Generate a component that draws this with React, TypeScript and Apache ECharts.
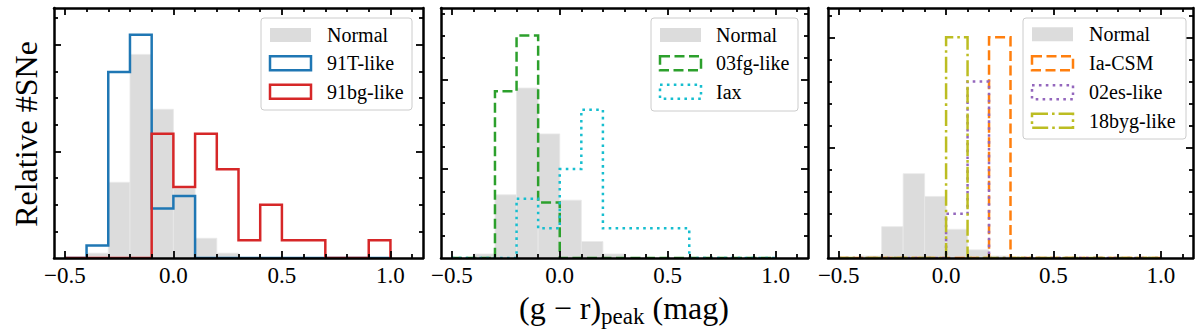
import React, { useEffect, useRef } from "react";
import * as echarts from "echarts";

// Bin edges shared by all histograms (width 0.1 mag)
const BIN_EDGES = [-0.5, -0.4, -0.3, -0.2, -0.1, 0.0, 0.1, 0.2, 0.3, 0.4, 0.5, 0.6, 0.7, 0.8, 0.9, 1.0];

// Densities per bin (15 bins)
const NORMAL = [0, 0.09, 1.42, 3.82, 2.79, 1.3, 0.37, 0.09, 0, 0, 0, 0, 0, 0, 0];
const T91 = [0, 0.233, 3.488, 4.186, 0.93, 1.163, 0, 0, 0, 0, 0, 0, 0, 0, 0];
const BG91 = [0, 0, 0, 0, 2.333, 1.333, 2.333, 1.667, 0.333, 1.0, 0.333, 0.333, 0, 0, 0.333];
const FG03 = [0, 0, 3.75, 5.0, 1.25, 0, 0, 0, 0, 0, 0, 0, 0, 0, 0];
const IAX = [0, 0, 0, 1.333, 0.667, 2.0, 3.333, 0.667, 0.667, 0.667, 0.667, 0, 0, 0, 0];
const CSM = [0, 0, 0, 0, 0, 0, 0, 10, 0, 0, 0, 0, 0, 0, 0];
const ES02 = [0, 0, 0, 0, 0, 2, 8, 0, 0, 0, 0, 0, 0, 0, 0];
const BYG18 = [0, 0, 0, 0, 0, 10, 0, 0, 0, 0, 0, 0, 0, 0, 0];

// Axis ticks
const X_MAJOR = [-0.5, 0.0, 0.5, 1.0];
const X_MINOR = [-0.4, -0.3, -0.2, -0.1, 0.1, 0.2, 0.3, 0.4, 0.6, 0.7, 0.8, 0.9, 1.1];
const Y_MAJOR = [[2, 4], [2, 4], [5, 10]];
const Y_MINOR = [
  [0.5, 1, 1.5, 2.5, 3, 3.5, 4.5],
  [0.5, 1, 1.5, 2.5, 3, 3.5, 4.5, 5, 5.5],
  [1, 2, 3, 4, 6, 7, 8, 9, 11],
];
const Y_MAX = [4.69, 5.62, 11.33];
const X_MIN = -0.55;
const X_MAX = 1.15;

const FONT = "'Liberation Serif', serif";

type Step = { name: string; data: number[]; color: string; dash: any };

const PANELS: { steps: Step[] }[] = [
  {
    steps: [
      { name: "91T-like", data: T91, color: "#1f77b4", dash: "solid" },
      { name: "91bg-like", data: BG91, color: "#d62728", dash: "solid" },
    ],
  },
  {
    steps: [
      { name: "03fg-like", data: FG03, color: "#2ca02c", dash: [10, 4.5] },
      { name: "Iax", data: IAX, color: "#17becf", dash: [2.6, 4.3] },
    ],
  },
  {
    steps: [
      { name: "Ia-CSM", data: CSM, color: "#ff7f0e", dash: [10, 4.5] },
      { name: "02es-like", data: ES02, color: "#9467bd", dash: [2.6, 4.3] },
      { name: "18byg-like", data: BYG18, color: "#bcbd22", dash: [16, 4, 2.6, 4] },
    ],
  },
];

const GRIDS = [
  { left: 54, top: 8, width: 369, height: 250 },
  { left: 441, top: 8, width: 367, height: 250 },
  { left: 828, top: 8, width: 365, height: 250 },
];

const LEGENDS = [
  { x: 261, y: 18, w: 151, h: 92, hx: 270, tx: 327, rows: [35, 63.3, 91.7] },
  { x: 651, y: 18, w: 147, h: 93, hx: 660, tx: 716, rows: [35, 63.3, 91.7] },
  { x: 1023, y: 18, w: 163, h: 121, hx: 1032, tx: 1089, rows: [34.3, 63.3, 92.2, 120.7] },
];

function stepPoints(vals: number[]) {
  const pts: number[][] = [[BIN_EDGES[0], 0]];
  vals.forEach((v, i) => pts.push([BIN_EDGES[i], v]));
  pts.push([BIN_EDGES[BIN_EDGES.length - 1], 0]);
  return pts;
}

function fmt(v: number) {
  const s = Math.abs(v).toFixed(1);
  return v < 0 ? "\u2212" + s : s;
}

function buildOption() {
  const xAxis: any[] = [];
  const yAxis: any[] = [];
  const series: any[] = [];
  const graphic: any[] = [];

  GRIDS.forEach((_, g) => {
    const mk = (pos: string, minor: boolean, labels: boolean) => ({
      type: "value",
      gridIndex: g,
      position: pos,
      min: X_MIN,
      max: X_MAX,
      z: 10,
      axisLine: { show: !minor, onZero: false, lineStyle: { color: "#000", width: 2.5 } },
      axisTick: {
        show: true,
        inside: true,
        length: minor ? 4 : 7,
        lineStyle: { color: "#000", width: 1.8 },
        customValues: minor ? X_MINOR : X_MAJOR,
      },
      axisLabel: {
        show: labels,
        customValues: X_MAJOR,
        formatter: (v: number) => fmt(v),
        color: "#000",
        fontFamily: "Liberation Serif",
        fontSize: 23,
        margin: 6,
      },
      splitLine: { show: false },
    });
    xAxis.push(mk("bottom", false, true), mk("top", false, false), mk("bottom", true, false), mk("top", true, false));

    const mky = (pos: string, minor: boolean) => ({
      type: "value",
      gridIndex: g,
      position: pos,
      min: 0,
      max: Y_MAX[g],
      z: 10,
      axisLine: { show: !minor, onZero: false, lineStyle: { color: "#000", width: 2.5 } },
      axisTick: {
        show: true,
        inside: true,
        length: minor ? 4 : 7,
        lineStyle: { color: "#000", width: 1.8 },
        customValues: minor ? Y_MINOR[g] : Y_MAJOR[g],
      },
      axisLabel: { show: false },
      splitLine: { show: false },
    });
    yAxis.push(mky("left", false), mky("right", false), mky("left", true), mky("right", true));

    series.push({
      type: "custom",
      name: "Normal",
      xAxisIndex: 4 * g,
      yAxisIndex: 4 * g,
      clip: true,
      z: 1,
      data: NORMAL.map((v, i) => [BIN_EDGES[i], BIN_EDGES[i + 1], v]),
      encode: { x: [0, 1], y: 2 },
      renderItem: (params: any, api: any) => {
        const v = api.value(2);
        if (!v) return null;
        const p0 = api.coord([api.value(0), v]);
        const p1 = api.coord([api.value(1), 0]);
        return {
          type: "rect",
          shape: { x: p0[0], y: p0[1], width: p1[0] - p0[0], height: p1[1] - p0[1] },
          style: { fill: "#dcdcdc", stroke: "#e9e9e9", lineWidth: 0.8 },
        };
      },
    });

    PANELS[g].steps.forEach((s, k) => {
      series.push({
        type: "line",
        name: s.name,
        xAxisIndex: 4 * g,
        yAxisIndex: 4 * g,
        step: "end",
        symbol: "none",
        z: 3 + k,
        data: stepPoints(s.data),
        lineStyle: { color: s.color, width: 2.5, type: s.dash, cap: "butt", join: "miter" },
      });
    });

    // legend
    const L = LEGENDS[g];
    graphic.push({
      type: "rect",
      z: 50,
      shape: { x: L.x, y: L.y, width: L.w, height: L.h, r: 3 },
      style: { fill: "rgba(255,255,255,0.8)", stroke: "#cccccc", lineWidth: 1 },
    });
    const items = [{ name: "Normal", color: "#dcdcdc", dash: null as any, fill: true }].concat(
      PANELS[g].steps.map((s) => ({ name: s.name, color: s.color, dash: s.dash, fill: false }))
    );
    items.forEach((it, r) => {
      const cy = L.rows[r];
      graphic.push({
        type: "rect",
        z: 51,
        shape: { x: L.hx, y: cy - 7, width: 41, height: 14 },
        style: it.fill
          ? { fill: it.color }
          : {
              fill: "none",
              stroke: it.color,
              lineWidth: 2.5,
              lineDash: it.dash === "solid" ? null : it.dash,
              lineJoin: "miter",
            },
      });
      graphic.push({
        type: "text",
        z: 51,
        x: L.tx,
        y: cy,
        style: {
          text: it.name,
          fill: "#000",
          font: `20px ${FONT}`,
          align: "left",
          verticalAlign: "middle",
        },
      });
    });
  });

  graphic.push({
    type: "text",
    x: 26,
    y: 134,
    rotation: Math.PI / 2,
    style: {
      text: "Relative #SNe",
      fill: "#000",
      font: `32px ${FONT}`,
      align: "center",
      verticalAlign: "middle",
    },
  });
  graphic.push({
    type: "text",
    x: 624,
    y: 308,
    style: {
      text: "{a|(g \u2212 r)}{b|peak}{a| (mag)}",
      fill: "#000",
      align: "center",
      verticalAlign: "middle",
      rich: {
        a: { fontSize: 32, fontFamily: "Liberation Serif", lineHeight: 40, verticalAlign: "middle" },
        b: { fontSize: 23, fontFamily: "Liberation Serif", lineHeight: 16, verticalAlign: "bottom" },
      },
    },
  });

  return {
    animation: false,
    backgroundColor: "#fff",
    textStyle: { fontFamily: "Liberation Serif" },
    grid: GRIDS.map((g) => ({ ...g, containLabel: false })),
    xAxis,
    yAxis,
    series,
    graphic,
  };
}

export default function App() {
  const ref = useRef<HTMLDivElement>(null);
  useEffect(() => {
    if (!ref.current) return;
    const chart = echarts.init(ref.current, null, { renderer: "svg" });
    chart.setOption(buildOption() as any);
    return () => chart.dispose();
  }, []);
  return (
    <div
      ref={ref}
      style={{ position: "absolute", left: 0, top: 0, width: 1200, height: 335, background: "#fff" }}
    />
  );
}
